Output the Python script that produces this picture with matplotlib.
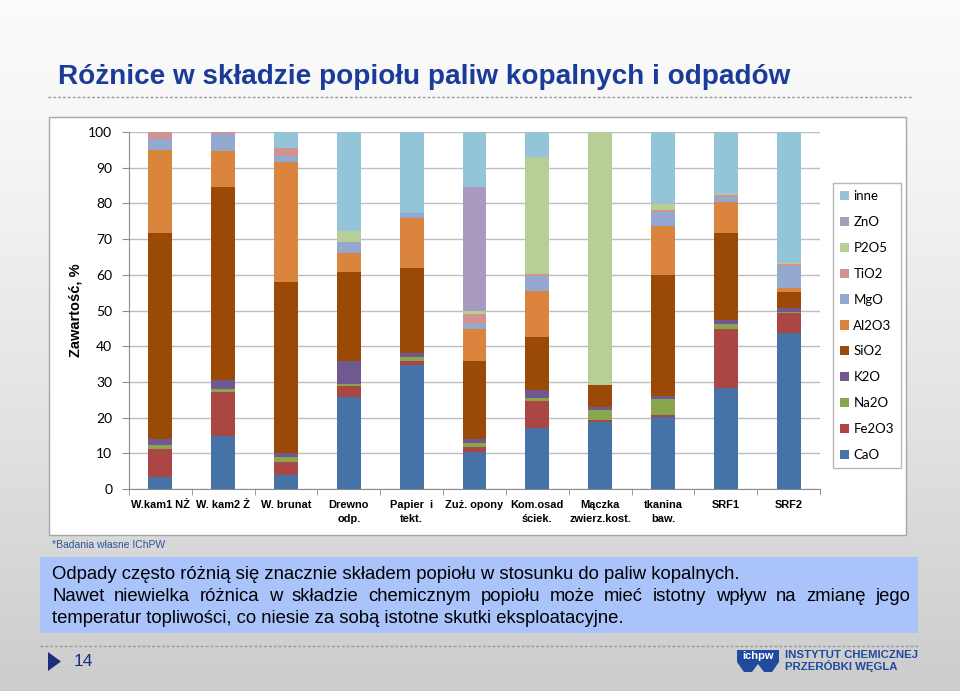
import matplotlib
matplotlib.use('Agg')
import matplotlib.pyplot as plt
import numpy as np
from matplotlib.patches import Rectangle, Polygon
from matplotlib.lines import Line2D

categories = ['W.kam1 NŻ', 'W. kam2 Ż', 'W. brunat', 'Drewno\nodp.', 'Papier  i\ntekt.',
              'Zuż. opony', 'Kom.osad\nściek.', 'Mączka\nzwierz.kost.', 'tkanina\nbaw.',
              'SRF1', 'SRF2']

CaO   = [3.5, 14.8, 3.9, 25.9, 34.6, 10.3, 17.1, 18.9, 20.1, 28.3, 43.8]
Fe2O3 = [7.7, 12.4, 3.6, 2.9, 1.3, 1.6, 7.5, 0.3, 0.5, 16.4, 5.5]
Na2O  = [1.0, 0.9, 1.4, 0.6, 1.1, 1.0, 0.9, 2.8, 4.5, 1.5, 0.3]
K2O   = [1.8, 2.5, 1.2, 6.4, 1.2, 1.1, 2.1, 1.1, 0.9, 1.1, 1.0]
SiO2  = [57.6, 53.9, 47.8, 25.1, 23.6, 21.9, 15.0, 6.1, 33.9, 24.5, 4.6]
Al2O3 = [23.4, 10.1, 33.6, 5.1, 14.0, 9.0, 12.9, 0.0, 13.9, 8.5, 1.0]
MgO   = [3.1, 4.9, 1.7, 3.3, 1.6, 1.4, 4.1, 0.0, 3.9, 1.6, 6.3]
TiO2  = [1.9, 0.5, 2.3, 0.0, 0.0, 2.6, 0.5, 0.0, 0.5, 0.5, 0.4]
P2O5  = [0.0, 0.0, 0.0, 3.0, 0.0, 0.9, 32.8, 70.8, 1.6, 0.3, 0.4]
ZnO   = [0.0, 0.0, 0.0, 0.0, 0.0, 34.9, 0.0, 0.0, 0.0, 0.0, 0.0]
inne  = [0.0, 0.0, 4.5, 27.7, 22.6, 15.3, 7.1, 0.0, 20.2, 17.3, 36.7]

series_names = ['CaO', 'Fe2O3', 'Na2O', 'K2O', 'SiO2', 'Al2O3', 'MgO', 'TiO2', 'P2O5', 'ZnO', 'inne']
series_vals = [CaO, Fe2O3, Na2O, K2O, SiO2, Al2O3, MgO, TiO2, P2O5, ZnO, inne]
colors = ['#4572A7', '#AA4643', '#89A54E', '#71588F', '#9A4906', '#DB843D',
          '#93A9CF', '#D19392', '#B9CD96', '#A99BBD', '#93C4D7']

title = 'Różnice w składzie popiołu paliw kopalnych i odpadów'
footnote = '*Badania własne IChPW'
line1 = 'Odpady często różnią się znacznie składem popiołu w stosunku do paliw kopalnych.'
line2 = 'Nawet niewielka różnica w składzie chemicznym popiołu może mieć istotny wpływ na zmianę jego'
line3 = 'temperatur topliwości, co niesie za sobą istotne skutki eksploatacyjne.'

W, H = 960, 691
fig = plt.figure(figsize=(W / 100, H / 100), dpi=100)

def fx(x): return x / W
def fy(y): return 1 - y / H

# background gradient
bg = fig.add_axes([0, 0, 1, 1], zorder=-10)
grad = np.linspace(0, 1, 256)[:, None]
top = np.array([0.985, 0.985, 0.985]); bot = np.array([0.80, 0.80, 0.80])
img = top[None, None, :] * (1 - grad[..., None] ** 1.3) + bot[None, None, :] * (grad[..., None] ** 1.3)
img = np.repeat(img, 4, axis=1)
bg.imshow(img, aspect='auto', extent=[0, 1, 0, 1], origin='upper')
bg.set_xlim(0, 1); bg.set_ylim(0, 1)
bg.axis('off')

# white panel
fig.patches.append(Rectangle((fx(49), fy(535)), fx(906) - fx(49), fy(117) - fy(535),
                             transform=fig.transFigure, facecolor='white',
                             edgecolor='#a6a6a6', lw=1.0, zorder=-5))

# blue text box
fig.patches.append(Rectangle((fx(40), fy(633)), fx(918) - fx(40), fy(557) - fy(633),
                             transform=fig.transFigure, facecolor='#aac4fb',
                             edgecolor='none', zorder=-5))

# dotted lines
fig.add_artist(Line2D([fx(48), fx(912)], [fy(97), fy(97)], transform=fig.transFigure,
                      color='#9a9a9a', lw=1.0, ls=(0, (2, 1.5))))
fig.add_artist(Line2D([fx(40), fx(918)], [fy(646), fy(646)], transform=fig.transFigure,
                      color='#9a9a9a', lw=1.0, ls=(0, (2, 1.5))))

# title
fig.text(fx(58), fy(77), title, fontsize=20.1, fontweight='bold', color='#1b3b98',
         family='Liberation Sans', va='center', ha='left')

# main axes
ax = fig.add_axes([fx(129), fy(489), fx(820) - fx(129), fy(132) - fy(489)])
x = np.arange(len(categories))
bottom = np.zeros(len(categories))
handles = []
for name, vals, c in zip(series_names, series_vals, colors):
    b = ax.bar(x, vals, width=0.38, bottom=bottom, color=c, label=name, zorder=3)
    bottom += np.array(vals)
    handles.append(b)

ax.set_xlim(-0.5, len(categories) - 0.5)
ax.set_ylim(0, 100)
ax.set_yticks(np.arange(0, 101, 10))
ax.yaxis.grid(True, color='#bdbdbd', lw=1.0, zorder=0)
ax.set_axisbelow(True)
for s in ['top', 'right']:
    ax.spines[s].set_visible(False)
for s in ['left', 'bottom']:
    ax.spines[s].set_color('#8c8c8c')
ax.tick_params(axis='y', length=5, color='#8c8c8c', labelsize=10, pad=7)
ax.set_xticks(x)
ax.set_xticklabels(categories, fontsize=7.9, fontweight='bold', family=['Liberation Sans', 'DejaVu Sans'],
                   linespacing=1.45, va='top')
ax.tick_params(axis='x', length=0, pad=8)
ax.set_xticks(np.arange(-0.5, len(categories), 1.0), minor=True)
ax.tick_params(axis='x', which='minor', length=4, color='#8c8c8c')
for lab in ax.get_yticklabels():
    lab.set_family(['Lato', 'DejaVu Sans'])
ax.set_facecolor('none')

fig.text(fx(76), fy(310), 'Zawartość, %', rotation=90, fontsize=10.5, fontweight='bold',
         family=['Liberation Sans', 'DejaVu Sans'], ha='center', va='center')

leg = fig.legend(handles[::-1], series_names[::-1], loc='upper left',
                 bbox_to_anchor=(fx(833), fy(183)), frameon=True, fancybox=False,
                 prop={'family': ['Lato', 'DejaVu Sans'], 'size': 9.5},
                 handlelength=0.7, handleheight=0.7, handletextpad=0.3,
                 labelspacing=1.05, borderpad=0.55, borderaxespad=0)
leg.get_frame().set_edgecolor('#a6a6a6')
leg.get_frame().set_linewidth(1.0)

# footnote
fig.text(fx(52), fy(545), footnote, fontsize=7.5, color='#2f5496', family='Liberation Sans',
         va='center', ha='left')

# body text
body_font = dict(fontsize=13.3, family='Liberation Sans', color='black', va='baseline', ha='left')
fig.text(fx(52), fy(579), line1, **body_font)
fig.text(fx(52), fy(623), line3, **body_font)

# justified line 2
renderer = fig.canvas.get_renderer()
words = line2.split(' ')
objs = [fig.text(0, 0, w_, **body_font) for w_ in words]
widths = [o.get_window_extent(renderer).width for o in objs]
left, right = 52, 910
gap = (right - left - sum(widths)) / (len(words) - 1)
pos = left
for o, wd in zip(objs, widths):
    o.set_position((fx(pos), fy(601)))
    pos += wd + gap

# page marker
fig.patches.append(Polygon([[fx(48), fy(652)], [fx(48), fy(671)], [fx(61), fy(661.5)]],
                           closed=True, transform=fig.transFigure, facecolor='#1a2f7e',
                           edgecolor='none'))
fig.text(fx(74), fy(661), '14', fontsize=12.5, color='#1a2f7e', family='Liberation Sans',
         va='center', ha='left')

# logo
logo_c = '#1f4a9e'
fig.patches.append(Polygon([[fx(737), fy(650)], [fx(779), fy(650)], [fx(779), fy(662)],
                            [fx(772), fy(672)], [fx(764), fy(672)], [fx(758), fy(664)],
                            [fx(752), fy(672)], [fx(744), fy(672)], [fx(737), fy(662)]],
                           closed=True, transform=fig.transFigure, facecolor=logo_c,
                           edgecolor='none'))
fig.text(fx(758), fy(656), 'ichpw', fontsize=8, fontweight='bold', color='white',
         family='Liberation Sans', ha='center', va='center')
fig.text(fx(785), fy(658), 'INSTYTUT CHEMICZNEJ', fontsize=8.2, fontweight='bold',
         color=logo_c, family=['Liberation Sans', 'DejaVu Sans'], ha='left', va='baseline')
fig.text(fx(785), fy(670), 'PRZERÓBKI WĘGLA', fontsize=8.2, fontweight='bold',
         color=logo_c, family=['Liberation Sans', 'DejaVu Sans'], ha='left', va='baseline')

fig.savefig('out.png', dpi=100)
